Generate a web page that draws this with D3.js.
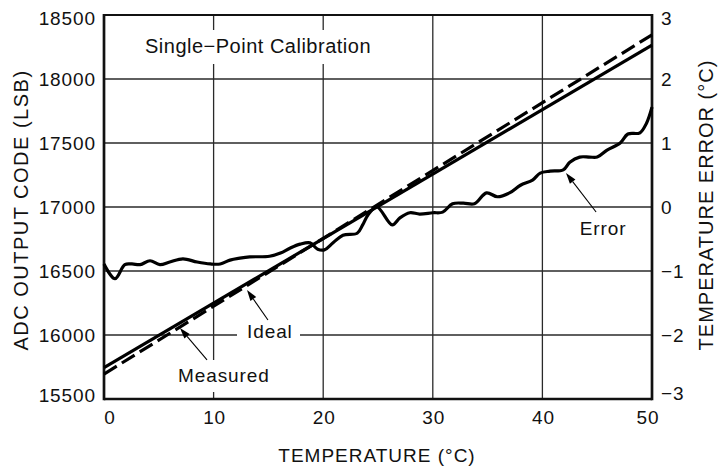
<!DOCTYPE html>
<html><head><meta charset="utf-8">
<script src="https://cdn.jsdelivr.net/npm/d3@7"></script>
<style>
body{margin:0;background:#fff;}
text{font-family:"Liberation Sans",Arial,Helvetica,sans-serif;fill:#111;}
</style></head>
<body>
<svg id="c" width="721" height="468"></svg>
<script>
// ---- data ----
const xTicks = [0, 10, 20, 30, 40, 50];
const leftTicks = [15500, 16000, 16500, 17000, 17500, 18000, 18500];
const rightTicks = [-3, -2, -1, 0, 1, 2, 3];
const lineTemps = [0, 50];
const solidCode = [15745, 18265];
const dashedCode = [15695, 18345];
const errTemps = [0, 1.0, 1.9, 2.55, 3.3, 4.2, 5.1, 6.0, 7.2, 8.5, 9.7, 10.6, 11.5, 12.4, 13.3, 15.1, 16.1, 17.0, 17.9, 18.8, 19.5, 20.1, 20.9, 21.8, 23.1, 23.6, 24.1, 24.9, 26.3, 27.0, 27.9, 28.8, 30.0, 30.9, 31.8, 32.8, 33.8, 34.9, 35.9, 37.0, 38.0, 39.1, 39.8, 40.7, 41.9, 42.5, 43.4, 44.3, 45.0, 45.9, 47.1, 47.8, 48.9, 49.5, 50];
const errValues = [-0.89, -1.12, -0.9, -0.89, -0.9, -0.84, -0.9, -0.86, -0.81, -0.86, -0.89, -0.89, -0.83, -0.8, -0.78, -0.77, -0.72, -0.64, -0.58, -0.56, -0.66, -0.67, -0.56, -0.44, -0.41, -0.28, -0.12, 0.0, -0.28, -0.17, -0.09, -0.11, -0.09, -0.08, 0.05, 0.06, 0.05, 0.22, 0.16, 0.22, 0.34, 0.42, 0.53, 0.56, 0.58, 0.7, 0.78, 0.78, 0.78, 0.89, 1.0, 1.14, 1.16, 1.31, 1.56];

const svg = d3.select("#c");
const L = 104, R = 652, T = 15, B = 399;
const x = d3.scaleLinear().domain([0, 50]).range([L, R]);
const yL = d3.scaleLinear().domain([15500, 18500]).range([B, T]);
const yR = d3.scaleLinear().domain([-3, 3]).range([B, T]);

const FS = 19;
// grid
const g = svg.append("g");
g.selectAll("line.v").data(xTicks.slice(1, -1)).enter().append("line")
  .attr("x1", d => x(d)).attr("x2", d => x(d)).attr("y1", T).attr("y2", B)
  .attr("stroke", "#2a2a2a").attr("stroke-width", 1.3);
g.selectAll("line.h").data(leftTicks.slice(1, -1)).enter().append("line")
  .attr("x1", L).attr("x2", R).attr("y1", d => yL(d)).attr("y2", d => yL(d))
  .attr("stroke", "#2a2a2a").attr("stroke-width", 1.3);

// white boxes for labels (break gridlines)
function box(x0, y0, x1, y1) {
  svg.append("rect").attr("x", x0).attr("y", y0).attr("width", x1 - x0).attr("height", y1 - y0).attr("fill", "#fff");
}
box(140, 30, 376, 64);
box(237, yL(16000) - 3, 300, yL(16000) + 3);
box(x(10) - 4, 360, x(10) + 4, 392);

// frame
svg.append("line").attr("x1", L).attr("x2", R).attr("y1", T).attr("y2", T).attr("stroke", "#111").attr("stroke-width", 1.8);
svg.append("line").attr("x1", L).attr("x2", R).attr("y1", B).attr("y2", B).attr("stroke", "#111").attr("stroke-width", 2.7);
svg.append("line").attr("x1", L).attr("x2", L).attr("y1", T - 1).attr("y2", B + 1.3).attr("stroke", "#111").attr("stroke-width", 2.7);
svg.append("line").attr("x1", R).attr("x2", R).attr("y1", T - 1).attr("y2", B + 1.3).attr("stroke", "#111").attr("stroke-width", 2.7);

// tick labels
svg.selectAll("text.xl").data(xTicks).enter().append("text")
  .attr("x", (d, i) => x(d) + (i === 0 ? 6 : i === xTicks.length - 1 ? -4 : 1))
  .attr("y", 417).attr("dy", "0.35em").attr("text-anchor", "middle")
  .attr("font-size", FS).attr("letter-spacing", "0.9px").text(d => d);
svg.selectAll("text.yl").data(leftTicks).enter().append("text")
  .attr("x", 96).attr("y", (d, i) => yL(d) + (i === 0 ? -4 : i === leftTicks.length - 1 ? 3 : 0))
  .attr("dy", "0.35em").attr("text-anchor", "end")
  .attr("font-size", FS).attr("letter-spacing", "0.9px").text(d => d);
svg.selectAll("text.yr").data(rightTicks).enter().append("text")
  .attr("x", 661).attr("y", (d, i) => yR(d) + (i === 0 ? -6 : i === rightTicks.length - 1 ? 3 : 0))
  .attr("dy", "0.35em").attr("text-anchor", "start")
  .attr("font-size", FS).attr("letter-spacing", "0.9px").text(d => d < 0 ? "\u2212" + Math.abs(d) : d);

// axis titles
svg.append("text").attr("x", 377).attr("y", 455).attr("dy", "0.35em").attr("text-anchor", "middle")
  .attr("font-size", FS).attr("letter-spacing", "1px").text("TEMPERATURE (\u00B0C)");
svg.append("text").attr("transform", "translate(21,210) rotate(-90)").attr("dy", "0.35em").attr("text-anchor", "middle")
  .attr("font-size", 20).attr("letter-spacing", "1.5px").text("ADC OUTPUT CODE (LSB)");
svg.append("text").attr("transform", "translate(706,205) rotate(-90)").attr("dy", "0.35em").attr("text-anchor", "middle")
  .attr("font-size", 20).attr("letter-spacing", "1px").text("TEMPERATURE ERROR (\u00B0C)");

// lines
const lineGen = d3.line().x(d => x(d[0])).y(d => yL(d[1]));
svg.append("path").datum(lineTemps.map((t, i) => [t, solidCode[i]])).attr("d", lineGen)
  .attr("fill", "none").attr("stroke", "#000").attr("stroke-width", 3.2);
svg.append("path").datum(lineTemps.map((t, i) => [t, dashedCode[i]])).attr("d", lineGen)
  .attr("fill", "none").attr("stroke", "#000").attr("stroke-width", 3.2).attr("stroke-dasharray", "15,6");
const errGen = d3.line().x(d => x(d[0])).y(d => yR(d[1])).curve(d3.curveCatmullRom.alpha(0.5));
svg.append("path").datum(errTemps.map((t, i) => [t, errValues[i]])).attr("d", errGen)
  .attr("fill", "none").attr("stroke", "#000").attr("stroke-width", 3.2).attr("stroke-linejoin", "round");

// annotations (data coords: temperature, LSB)
function arrow(t0, c0, t1, c1) {
  const x0 = x(t0), y0 = yL(c0), x1 = x(t1), y1 = yL(c1);
  const a = Math.atan2(y1 - y0, x1 - x0), len = 11, w = 3.5;
  const bx = x1 - len * Math.cos(a), by = y1 - len * Math.sin(a);
  svg.append("line").attr("x1", x0).attr("y1", y0).attr("x2", bx).attr("y2", by).attr("stroke", "#000").attr("stroke-width", 1.1);
  const p = [[x1, y1], [bx + w * Math.sin(a), by - w * Math.cos(a)], [bx - w * Math.sin(a), by + w * Math.cos(a)]];
  svg.append("path").attr("d", "M" + p.join("L") + "Z").attr("fill", "#000");
}
arrow(14.96, 16117, 13.05, 16352);
arrow(9.4, 15805, 6.93, 16055);
arrow(44.9, 16961, 42.15, 17266);

function label(t, c, s, anchor) {
  svg.append("text").attr("x", x(t)).attr("y", yL(c)).attr("text-anchor", anchor || "start")
    .attr("font-size", FS).attr("letter-spacing", "0.9px").text(s);
}
svg.append("text").attr("x", 145).attr("y", 53).attr("font-size", 20).attr("letter-spacing", "0.5px").text("Single\u2212Point Calibration");
label(13.05, 15530 + 500 * (399 - 338) / 64 - 30, "Ideal");
label(6.75, 15500 + 500 * (399 - 382) / 64, "Measured");
label(43.4, 15500 + 500 * (399 - 235) / 64, "Error");
</script>
</body></html>
